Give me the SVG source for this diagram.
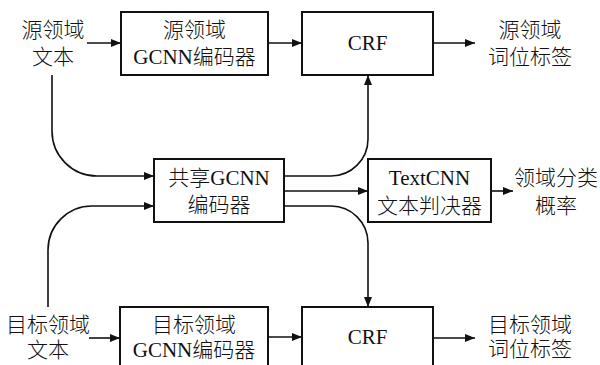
<svg xmlns="http://www.w3.org/2000/svg" width="600" height="365" viewBox="0 0 600 365">
<style>
text{font-family:"Liberation Serif","Noto Sans CJK SC",serif;font-size:21px;font-weight:300;fill:#111;text-anchor:middle;dominant-baseline:central}
.box{fill:#fff;stroke:#111;stroke-width:2}
.c{fill:none;stroke:#111;stroke-width:1.6}
</style>
<defs>
<marker id="a" viewBox="0 0 10 8" refX="10" refY="4" markerWidth="10" markerHeight="8" markerUnits="userSpaceOnUse" orient="auto">
<path d="M0,0L10,4L0,8z" fill="#111"/>
</marker>
</defs>
<g id="connectors">
<path class="c" d="M87,43H121" marker-end="url(#a)"/>
<path class="c" d="M268,43H302" marker-end="url(#a)"/>
<path class="c" d="M433,43H475" marker-end="url(#a)"/>
<path class="c" d="M52,75V131A45,45 0 0 0 97,176H154" marker-end="url(#a)"/>
<path class="c" d="M48,307V250A44,44 0 0 1 92,206H154" marker-end="url(#a)"/>
<path class="c" d="M284,176H331A37,37 0 0 0 368,139V75" marker-end="url(#a)"/>
<path class="c" d="M284,191H368" marker-end="url(#a)"/>
<path class="c" d="M284,206H331A37,37 0 0 1 368,243V307" marker-end="url(#a)"/>
<path class="c" d="M491,191H513" marker-end="url(#a)"/>
<path class="c" d="M89,338H120" marker-end="url(#a)"/>
<path class="c" d="M268,337H302" marker-end="url(#a)"/>
<path class="c" d="M433,338H475" marker-end="url(#a)"/>
</g>
<g id="src-text"><text x="53" y="30">源领域</text><text x="53" y="57">文本</text></g>
<g id="src-enc"><rect class="box" x="121" y="12" width="147" height="63"/><text x="194.5" y="30">源领域</text><text x="194.5" y="57">GCNN编码器</text></g>
<g id="src-crf"><rect class="box" x="302" y="12" width="131" height="63"/><text x="367.5" y="43">CRF</text></g>
<g id="src-out"><text x="530" y="30">源领域</text><text x="530" y="57">词位标签</text></g>
<g id="shared"><rect class="box" x="154" y="159" width="130" height="63"/><text x="219" y="178">共享GCNN</text><text x="219" y="205">编码器</text></g>
<g id="textcnn"><rect class="box" x="368" y="159" width="123" height="63"/><text x="429.5" y="178">TextCNN</text><text x="429.5" y="206">文本判决器</text></g>
<g id="domain-out"><text x="556" y="178">领域分类</text><text x="556" y="206">概率</text></g>
<g id="tgt-text"><text x="48" y="325">目标领域</text><text x="48" y="350">文本</text></g>
<g id="tgt-enc"><rect class="box" x="120" y="307" width="148" height="70"/><text x="194" y="325">目标领域</text><text x="194" y="350">GCNN编码器</text></g>
<g id="tgt-crf"><rect class="box" x="302" y="307" width="131" height="70"/><text x="367.5" y="337">CRF</text></g>
<g id="tgt-out"><text x="530" y="325">目标领域</text><text x="530" y="349">词位标签</text></g>
</svg>
